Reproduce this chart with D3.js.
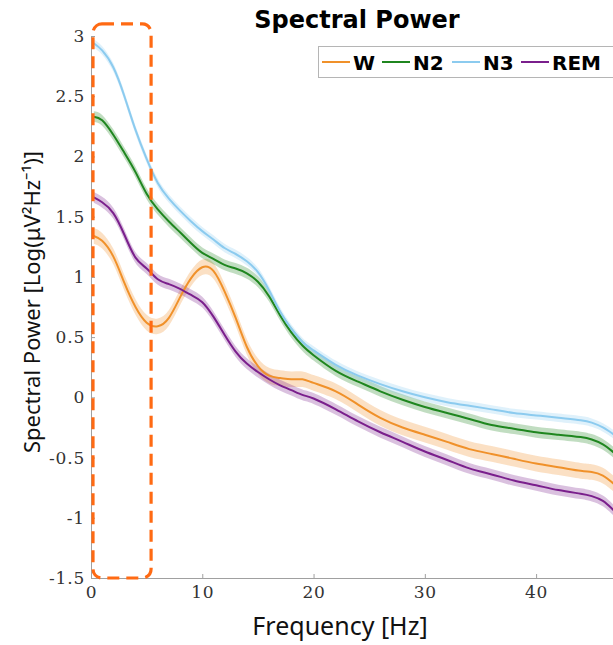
<!DOCTYPE html>
<html>
<head>
<meta charset="utf-8">
<script src="https://cdn.jsdelivr.net/npm/d3@7"></script>
<style>
    body { margin: 0; background: #fff; }
    svg { display: block; }
</style>
</head>
<body>
<div id="chart"></div>
<script>
'use strict';

// Data
const freqs = [0.25, 1, 2, 3, 4, 5, 6, 7, 8, 9, 10, 11, 12, 13, 14, 15, 16, 17, 18, 19, 20,
    22, 24, 26, 28, 30, 32, 34, 36, 38, 40, 42, 44, 45, 46, 47];
const powerW = [1.34, 1.30, 1.17, 0.95, 0.75, 0.62, 0.59, 0.66, 0.83, 0.99, 1.08, 1.05, 0.88, 0.66, 0.42, 0.26,
    0.18, 0.16, 0.15, 0.15, 0.12, 0.05, -0.06, -0.17, -0.25, -0.31, -0.37, -0.43, -0.47, -0.51, -0.55,
    -0.58, -0.61, -0.62, -0.65, -0.72];
const powerN2 = [2.33, 2.30, 2.18, 2.03, 1.87, 1.69, 1.56, 1.46, 1.37, 1.28, 1.20, 1.15, 1.10, 1.07, 1.03, 0.96,
    0.84, 0.68, 0.54, 0.43, 0.35, 0.22, 0.13, 0.05, -0.02, -0.08, -0.13, -0.18, -0.23, -0.26, -0.29,
    -0.31, -0.33, -0.35, -0.39, -0.46];
const powerN3 = [2.94, 2.88, 2.74, 2.50, 2.22, 1.98, 1.78, 1.65, 1.55, 1.46, 1.38, 1.31, 1.24, 1.19, 1.13, 1.04,
    0.89, 0.71, 0.57, 0.46, 0.39, 0.27, 0.18, 0.11, 0.05, 0.00, -0.04, -0.07, -0.10, -0.13, -0.15,
    -0.17, -0.19, -0.21, -0.25, -0.31];
const powerREM = [1.66, 1.62, 1.53, 1.35, 1.16, 1.07, 0.98, 0.94, 0.90, 0.85, 0.79, 0.67, 0.52, 0.38, 0.28, 0.21,
    0.15, 0.10, 0.06, 0.02, -0.01, -0.10, -0.20, -0.29, -0.37, -0.45, -0.52, -0.59, -0.64, -0.69, -0.73,
    -0.77, -0.80, -0.82, -0.86, -0.94];
const stages = ['W', 'N2', 'N3', 'REM'];
const semHalf = [0.065, 0.045, 0.035, 0.045];
const xTicks = [0, 10, 20, 30, 40];
const yTicks = [-1.5, -1, -0.5, 0, 0.5, 1, 1.5, 2, 2.5, 3];
const highlightBand = [0, 5.4];

class SpectralChart {

    // Configs
    w = 613;
    h = 645;
    colors = ['#f0912a', '#1f861f', '#8ccbef', '#7a1f8c'];

    constructor(_ref) {
        this.parent = _ref;
        this.series = [powerW, powerN2, powerN3, powerREM].map((vals, i) => ({
            name: stages[i],
            sem: semHalf[i],
            values: vals.map((v, j) => ({f: freqs[j], v: v}))
        }));
        this.initVis();
    }

    initVis() {
        const vis = this;

        vis.svg = d3.select(`#${vis.parent}`)
            .append('svg')
            .attr('width', vis.w)
            .attr('height', vis.h);

        // Scales
        vis.x = d3.scaleLinear().domain([0, 47]).range([91, 614]);
        vis.y = d3.scaleLinear().domain([-1.5, 3]).range([578, 36]);

        // Clip to plot area
        vis.svg.append('defs').append('clipPath')
            .attr('id', 'plot-clip')
            .append('rect')
            .attr('x', vis.x(0))
            .attr('y', 0)
            .attr('width', vis.w - vis.x(0))
            .attr('height', vis.y(-1.5));

        vis.plotG = vis.svg.append('g').attr('clip-path', 'url(#plot-clip)');

        const area = d3.area()
            .curve(d3.curveNatural)
            .x(d => vis.x(d.f));
        const line = d3.line()
            .curve(d3.curveNatural)
            .x(d => vis.x(d.f))
            .y(d => vis.y(d.v));

        // Shaded bands then lines
        vis.series.forEach((s, i) => {
            vis.plotG.append('path')
                .datum(s.values)
                .attr('fill', vis.colors[i])
                .attr('fill-opacity', 0.28)
                .attr('d', area.y0(d => vis.y(d.v - s.sem)).y1(d => vis.y(d.v + s.sem)));
        });
        vis.series.forEach((s, i) => {
            vis.plotG.append('path')
                .datum(s.values)
                .attr('fill', 'none')
                .attr('stroke', vis.colors[i])
                .attr('stroke-width', 2)
                .attr('d', line);
        });

        vis.buildAxes();
        vis.buildHighlight();
        vis.buildLegend();
    }

    buildAxes() {
        const vis = this;

        // Y axis
        const yAxis = vis.svg.append('g')
            .attr('transform', `translate(${vis.x(0)},0)`)
            .call(d3.axisLeft(vis.y).tickValues(yTicks).tickFormat(d => String(d))
                .tickSizeInner(-4).tickSizeOuter(0).tickPadding(5));

        // X axis
        const xAxis = vis.svg.append('g')
            .attr('transform', `translate(0,${vis.y(-1.5)})`)
            .call(d3.axisBottom(vis.x).tickValues(xTicks).tickFormat(d => String(d))
                .tickSizeInner(-4).tickSizeOuter(0).tickPadding(8));

        [yAxis, xAxis].forEach(a => {
            a.select('.domain').attr('stroke', '#a0a0a0').attr('stroke-width', 1);
            a.selectAll('.tick line').attr('stroke', '#a0a0a0');
            a.selectAll('.tick text')
                .attr('fill', '#333')
                .style('font-family', '"DejaVu Serif", serif')
                .style('font-size', '17px')
                .style('letter-spacing', '0.8px');
        });
        yAxis.selectAll('.tick text').attr('x', -6);

        // Axis titles
        vis.svg.append('text')
            .attr('transform', 'translate(40,302) rotate(-90)')
            .attr('text-anchor', 'middle')
            .style('font-family', '"Noto Sans", sans-serif')
            .style('font-size', '22px')
            .attr('fill', '#111')
            .text('Spectral Power [Log(μV²Hz⁻¹)]');

        vis.svg.append('text')
            .attr('x', 340)
            .attr('y', 635)
            .attr('text-anchor', 'middle')
            .style('font-family', '"Noto Sans", sans-serif')
            .style('font-size', '25px')
            .attr('fill', '#111')
            .text('Frequency [Hz]');

        // Title
        vis.svg.append('text')
            .attr('x', 357)
            .attr('y', 28)
            .attr('text-anchor', 'middle')
            .style('font-family', '"DejaVu Sans", sans-serif')
            .style('font-weight', 'bold')
            .style('font-size', '24px')
            .attr('fill', '#000')
            .text('Spectral Power');
    }

    buildHighlight() {
        const vis = this;
        const x0 = vis.x(highlightBand[0]) + 2;
        const x1 = vis.x(highlightBand[1]);
        const y0 = vis.y(3.1);
        const y1 = vis.y(-1.5);

        vis.svg.append('rect')
            .attr('x', x0)
            .attr('y', y0)
            .attr('width', x1 - x0)
            .attr('height', y1 - y0)
            .attr('rx', 9)
            .attr('fill', 'none')
            .attr('stroke', '#ff6a13')
            .attr('stroke-width', 3.2)
            .attr('stroke-dasharray', '12,7');
    }

    buildLegend() {
        const vis = this;
        const legendG = vis.svg.append('g').attr('class', 'legendG');

        legendG.append('rect')
            .attr('x', 318.5)
            .attr('y', 46.5)
            .attr('width', 300)
            .attr('height', 31)
            .attr('fill', '#fff')
            .attr('stroke', '#b5b5b5');

        const starts = [322, 382, 452, 521];
        stages.forEach((s, i) => {
            legendG.append('line')
                .attr('x1', starts[i])
                .attr('x2', starts[i] + 28)
                .attr('y1', 62)
                .attr('y2', 62)
                .attr('stroke', vis.colors[i])
                .attr('stroke-width', 2);
            legendG.append('text')
                .attr('x', starts[i] + 31)
                .attr('y', 69.5)
                .style('font-family', '"DejaVu Sans", sans-serif')
                .style('font-weight', 'bold')
                .style('font-size', '20px')
                .attr('fill', '#000')
                .text(s);
        });
    }
}

new SpectralChart('chart');
</script>
</body>
</html>
